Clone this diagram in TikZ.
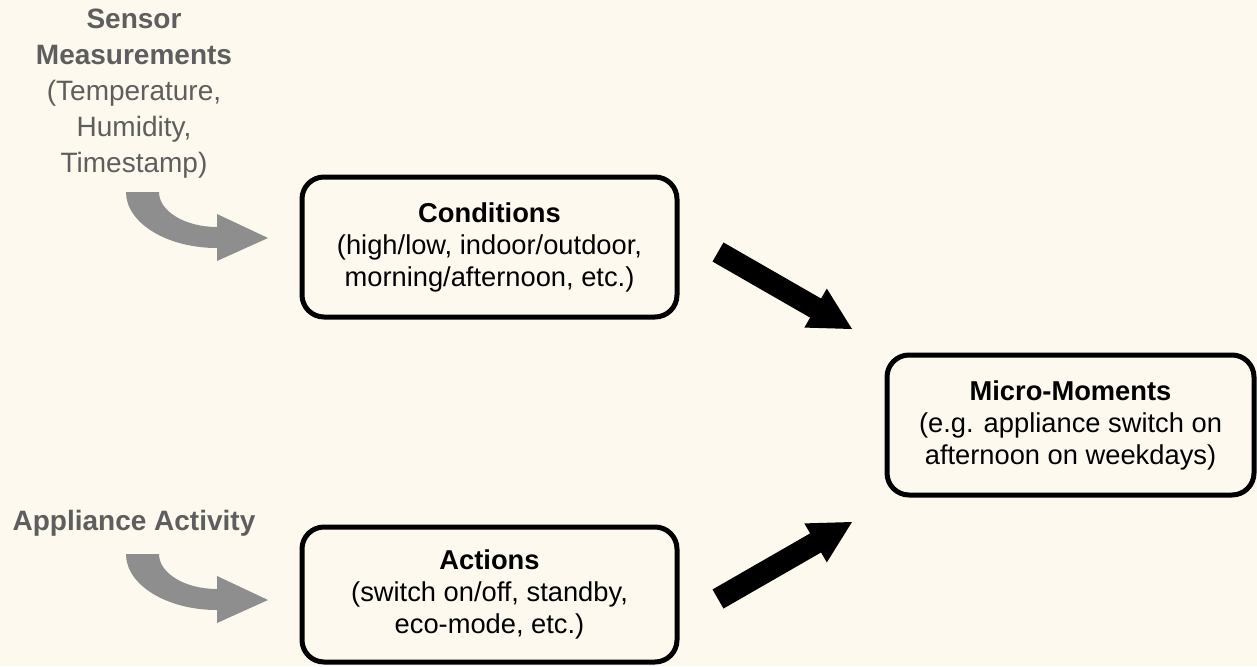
\documentclass[tikz,border=0pt]{standalone}
\usepackage{fontspec}
\setmainfont{Liberation Sans}
\usetikzlibrary{calc}
\definecolor{bg}{HTML}{FDF9EE}
\definecolor{graytxt}{HTML}{5E5E5E}
\definecolor{grayarrow}{HTML}{8E8E8E}
\tikzset{
  box/.style={draw=black, line width=5pt, rounded corners=22pt, align=center,
    inner sep=0pt, text=black, font=\fontsize{27.3}{32}\selectfont},
  srctext/.style={align=center, text=graytxt, inner sep=0pt,
    font=\fontsize{28}{36}\selectfont},
  curvearrow/.pic={
    \fill[grayarrow] (-142,-46) -- (-109,-46)
      .. controls (-109,-26.7) and (-83,-11) .. (-51,-11)
      -- (-51,-24) -- (0,0) -- (-51,23) -- (-51,10)
      .. controls (-101.3,10) and (-142,-15.1) .. (-142,-46) -- cycle;
  }
}
\newcommand\blockarrow[2]{%
  \coordinate (ba-b) at ($(#2)!42pt!(#1)$);
  \fill[black] ($(#1)!11pt!90:(#2)$) -- ($(ba-b)!11pt!-90:(#1)$)
    -- ($(ba-b)!22.5pt!-90:(#1)$) -- (#2)
    -- ($(ba-b)!22.5pt!90:(#1)$) -- ($(ba-b)!11pt!90:(#1)$)
    -- ($(#1)!11pt!-90:(#2)$) -- cycle;
}
\begin{document}
\begin{tikzpicture}[x=1pt,y=-1pt]
  \fill[bg] (0,0) rectangle (1257,666);
  \useasboundingbox (0,0) rectangle (1257,666);

  % source texts
  \node[srctext] (sensor) at (134,94) {\textbf{Sensor}\\\textbf{Measurements}\\(Temperature,\\Humidity,\\Timestamp)};
  \node[srctext] (appl) at (134,523) {\textbf{Appliance Activity}};

  % boxes
  \node[box, minimum width=375pt, minimum height=140pt] (cond) at (489.5,247)
    {\textbf{Conditions}\\(high/low, indoor/outdoor,\\morning/afternoon, etc.)};
  \node[box, minimum width=375pt, minimum height=135pt] (act) at (489.5,594.5)
    {\textbf{Actions}\\(switch on/off, standby,\\eco-mode, etc.)};
  \node[box, minimum width=367pt, minimum height=140pt] (micro) at (1070.5,425)
    {\textbf{Micro-Moments}\\(e.g. appliance switch on\\afternoon on weekdays)};

  % gray curved arrows
  \coordinate (g1) at (268,238);
  \coordinate (g2) at (268,600);
  \pic at (g1) {curvearrow};
  \pic at (g2) {curvearrow};

  % black block arrows
  \coordinate (b1t) at (718,252);
  \coordinate (b1h) at (852,329);
  \coordinate (b2t) at (718,599);
  \coordinate (b2h) at (852,522);
  \blockarrow{b1t}{b1h}
  \blockarrow{b2t}{b2h}
\end{tikzpicture}
\end{document}
